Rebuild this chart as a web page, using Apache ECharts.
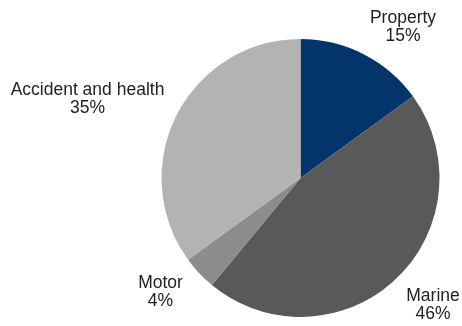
<!DOCTYPE html>
<html>
<head>
<meta charset="utf-8">
<script src="https://cdn.jsdelivr.net/npm/echarts@6/dist/echarts.min.js"></script>
<style>
  html, body { margin: 0; padding: 0; background: #ffffff; }
  #chart { width: 462px; height: 326px; }
</style>
</head>
<body>
<div id="chart"></div>
<script>
// Premium mix by line of business (%)
const categories = ['Property', 'Marine', 'Motor', 'Accident and health'];
const shares = [15, 46, 4, 35];
const sliceColors = ['#03356b', '#595959', '#8c8c8c', '#b3b3b3'];
// Label anchor points (centre of the two-line label), in pixels
const labelAnchors = [[403, 27], [433, 305], [160.5, 292], [87.5, 99]];

const chart = echarts.init(document.getElementById('chart'), null, { renderer: 'canvas' });

chart.setOption({
  animation: false,
  series: [{
    type: 'pie',
    center: [300.5, 178],
    radius: [0, 139],
    startAngle: 90,
    clockwise: true,
    silent: true,
    avoidLabelOverlap: false,
    data: categories.map((name, i) => ({
      name: name,
      value: shares[i],
      itemStyle: { color: sliceColors[i] }
    })),
    itemStyle: { borderWidth: 0 },
    label: {
      show: true,
      position: 'outside',
      alignTo: 'none',
      overflow: 'none',
      formatter: p => p.name + '\n' + p.value + '%',
      color: '#222222',
      fontFamily: 'Liberation Sans',
      fontSize: 17.5,
      lineHeight: 18,
      align: 'center'
    },
    labelLine: { show: false },
    labelLayout: params => ({
      x: labelAnchors[params.dataIndex][0],
      y: labelAnchors[params.dataIndex][1],
      align: 'center',
      verticalAlign: 'middle'
    })
  }]
});
</script>
</body>
</html>
